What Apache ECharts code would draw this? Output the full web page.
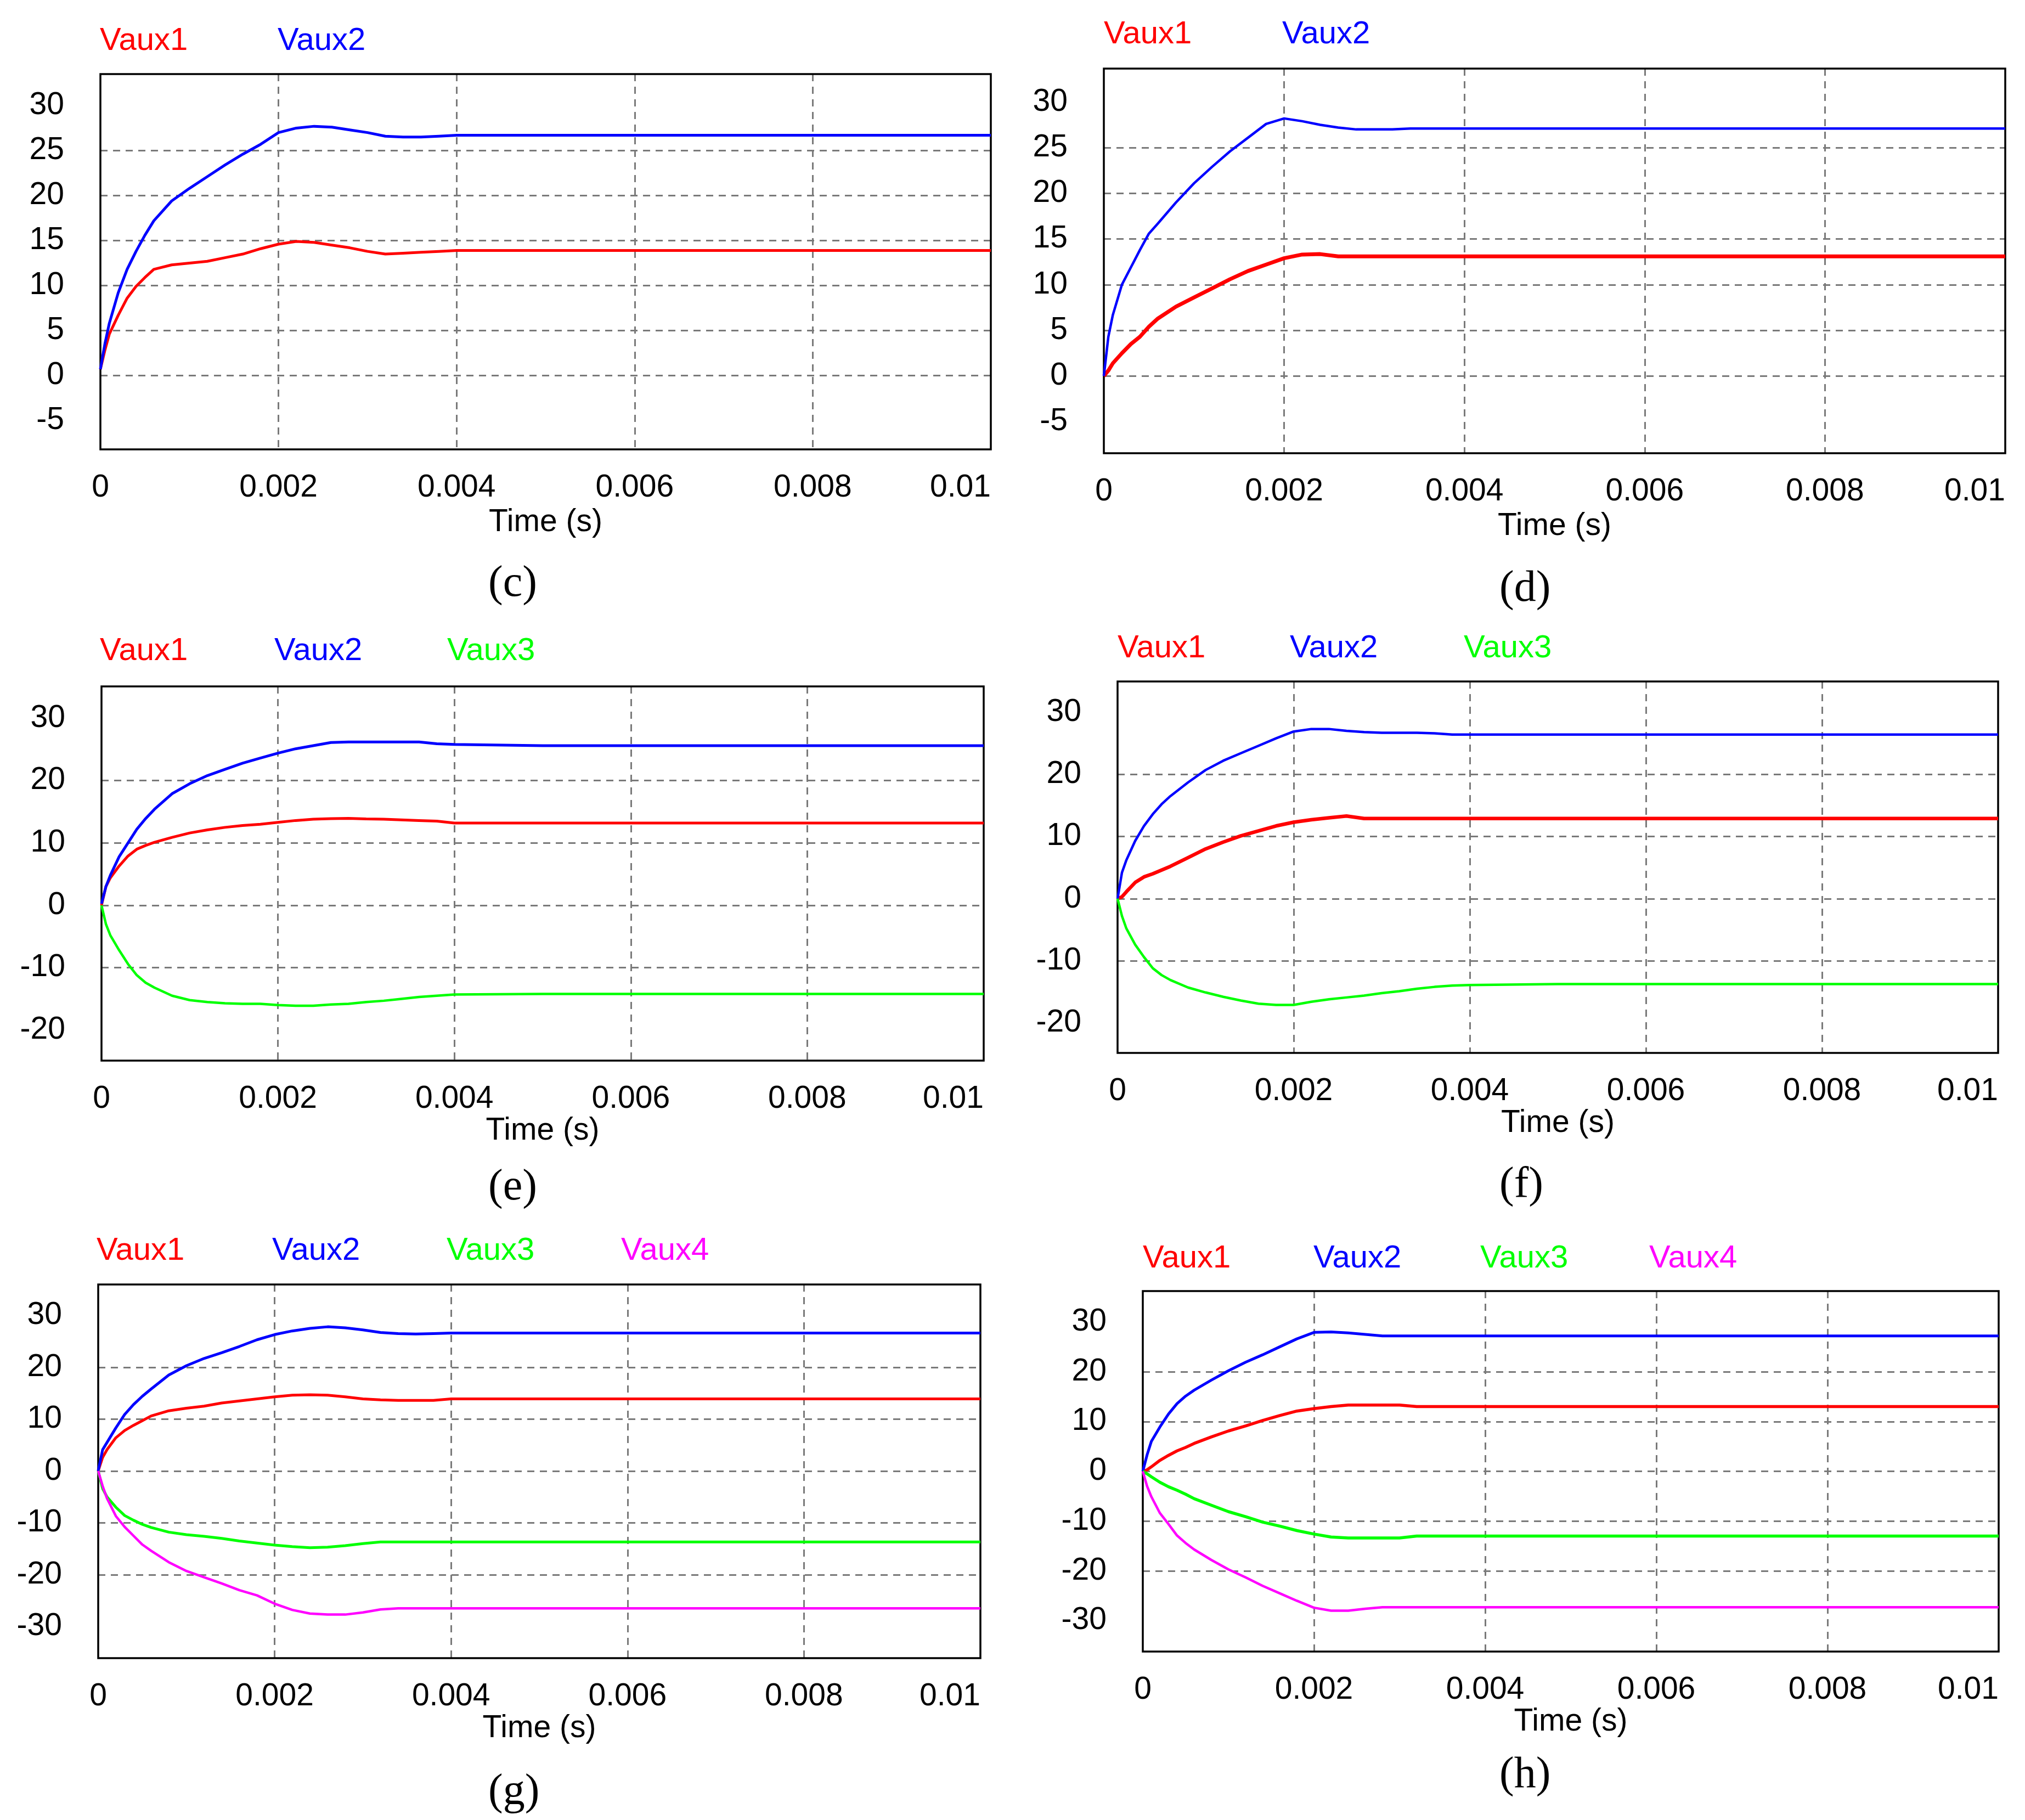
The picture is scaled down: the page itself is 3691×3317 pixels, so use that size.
<!DOCTYPE html>
<html>
<head>
<meta charset="utf-8">
<script src="https://cdn.jsdelivr.net/npm/echarts@6/dist/echarts.min.js"></script>
<style>
html,body{margin:0;padding:0;background:#fff;}
#chart{width:3691px;height:3317px;}
</style>
</head>
<body>
<div id="chart"></div>
<script>
// shared time samples (s)
const T = [0, 0.00005, 0.0001, 0.0002, 0.0003, 0.0004, 0.0005, 0.0006, 0.0008, 0.001,
  0.0012, 0.0014, 0.0016, 0.0018, 0.002, 0.0022, 0.0024, 0.0026, 0.0028, 0.003,
  0.0032, 0.0034, 0.0036, 0.0038, 0.004, 0.005, 0.006, 0.007, 0.008, 0.009, 0.01];

// x tick labels
const X_TICKS = [0, 0.002, 0.004, 0.006, 0.008, 0.01];
// y tick labels
const Y_TICKS_CD = [-5, 0, 5, 10, 15, 20, 25, 30];
const Y_TICKS_EF = [-20, -10, 0, 10, 20, 30];
const Y_TICKS_GH = [-30, -20, -10, 0, 10, 20, 30];

// panel (c)
const C_VAUX1 = [0.7, 2.8, 4.6, 6.7, 8.6, 9.9, 10.9, 11.8, 12.3, 12.5, 12.7, 13.1, 13.5, 14.1, 14.6, 14.9, 14.8, 14.5, 14.2, 13.8, 13.5, 13.6, 13.7, 13.8, 13.9, 13.9, 13.9, 13.9, 13.9, 13.9, 13.9];
const C_VAUX2 = [0.7, 3.5, 5.8, 9.2, 11.8, 13.8, 15.6, 17.2, 19.4, 20.8, 22.1, 23.4, 24.6, 25.7, 27.0, 27.5, 27.7, 27.6, 27.3, 27.0, 26.6, 26.5, 26.5, 26.6, 26.7, 26.7, 26.7, 26.7, 26.7, 26.7, 26.7];
// panel (d)
const D_VAUX1 = [0, 0.6, 1.4, 2.5, 3.5, 4.3, 5.4, 6.3, 7.6, 8.6, 9.6, 10.6, 11.5, 12.2, 12.9, 13.3, 13.35, 13.1, 13.1, 13.1, 13.1, 13.1, 13.1, 13.1, 13.1, 13.1, 13.1, 13.1, 13.1, 13.1, 13.1];
const D_VAUX2 = [0, 4.3, 6.7, 10.0, 11.9, 13.8, 15.6, 16.7, 19.0, 21.1, 22.9, 24.6, 26.1, 27.6, 28.2, 27.9, 27.5, 27.2, 27.0, 27.0, 27.0, 27.1, 27.1, 27.1, 27.1, 27.1, 27.1, 27.1, 27.1, 27.1, 27.1];
// panel (e)
const E_VAUX1 = [0, 3.0, 4.4, 6.3, 7.9, 9.0, 9.6, 10.1, 10.9, 11.6, 12.1, 12.5, 12.8, 13.0, 13.3, 13.6, 13.8, 13.9, 13.95, 13.85, 13.8, 13.7, 13.6, 13.5, 13.2, 13.2, 13.2, 13.2, 13.2, 13.2, 13.2];
const E_VAUX2 = [0.25, 3.0, 4.8, 7.8, 10.0, 12.2, 13.9, 15.4, 17.9, 19.5, 20.8, 21.8, 22.8, 23.6, 24.4, 25.1, 25.6, 26.1, 26.2, 26.2, 26.2, 26.2, 26.2, 25.9, 25.8, 25.6, 25.6, 25.6, 25.6, 25.6, 25.6];
const E_VAUX3 = [0, -3.0, -4.8, -7.2, -9.4, -11.2, -12.4, -13.2, -14.5, -15.2, -15.5, -15.7, -15.8, -15.8, -16.0, -16.1, -16.1, -15.9, -15.8, -15.5, -15.3, -15.0, -14.7, -14.5, -14.3, -14.2, -14.2, -14.2, -14.2, -14.2, -14.2];
// panel (f)
const F_VAUX1 = [0, 0.3, 1.1, 2.6, 3.5, 4.0, 4.6, 5.2, 6.6, 8.0, 9.1, 10.1, 10.9, 11.7, 12.3, 12.7, 13.0, 13.3, 12.9, 12.9, 12.9, 12.9, 12.9, 12.9, 12.9, 12.9, 12.9, 12.9, 12.9, 12.9, 12.9];
const F_VAUX2 = [0, 4.2, 6.2, 9.3, 11.7, 13.6, 15.2, 16.5, 18.7, 20.7, 22.2, 23.4, 24.6, 25.8, 26.9, 27.3, 27.3, 27.0, 26.8, 26.7, 26.7, 26.7, 26.6, 26.4, 26.4, 26.4, 26.4, 26.4, 26.4, 26.4, 26.4];
const F_VAUX3 = [0, -2.8, -4.8, -7.4, -9.4, -11.2, -12.3, -13.1, -14.3, -15.1, -15.8, -16.4, -16.9, -17.1, -17.1, -16.6, -16.2, -15.9, -15.6, -15.2, -14.9, -14.5, -14.2, -14.0, -13.9, -13.75, -13.75, -13.75, -13.75, -13.75, -13.75];
// panel (g)
const G_VAUX1 = [0, 2.6, 4.1, 6.4, 7.8, 8.8, 9.7, 10.6, 11.6, 12.1, 12.5, 13.1, 13.5, 13.9, 14.3, 14.6, 14.7, 14.6, 14.3, 13.9, 13.7, 13.6, 13.6, 13.6, 13.9, 13.9, 13.9, 13.9, 13.9, 13.9, 13.9];
const G_VAUX2 = [0, 4.1, 5.5, 8.3, 10.9, 12.8, 14.4, 15.8, 18.5, 20.3, 21.7, 22.8, 24.0, 25.3, 26.3, 27.0, 27.5, 27.8, 27.6, 27.2, 26.7, 26.5, 26.4, 26.5, 26.6, 26.6, 26.6, 26.6, 26.6, 26.6, 26.6];
const G_VAUX3 = [0, -3.4, -5.0, -7.0, -8.6, -9.5, -10.3, -10.9, -11.8, -12.3, -12.6, -13.0, -13.5, -13.9, -14.3, -14.6, -14.8, -14.7, -14.4, -14.0, -13.7, -13.7, -13.7, -13.7, -13.7, -13.7, -13.7, -13.7, -13.7, -13.7, -13.7];
const G_VAUX4 = [0, -2.9, -5.3, -8.7, -10.8, -12.5, -14.2, -15.4, -17.6, -19.3, -20.5, -21.7, -23.0, -24.0, -25.6, -26.8, -27.5, -27.7, -27.7, -27.3, -26.7, -26.5, -26.5, -26.5, -26.5, -26.5, -26.5, -26.5, -26.5, -26.5, -26.5];
// panel (h)
const H_VAUX1 = [0, 0.3, 0.9, 2.2, 3.2, 4.1, 4.8, 5.6, 6.9, 8.1, 9.1, 10.2, 11.2, 12.1, 12.6, 13.0, 13.3, 13.3, 13.3, 13.3, 13.0, 13.0, 13.0, 13.0, 13.0, 13.0, 13.0, 13.0, 13.0, 13.0, 13.0];
const H_VAUX2 = [0, 3.3, 6.0, 8.9, 11.5, 13.6, 15.1, 16.3, 18.3, 20.2, 21.9, 23.4, 25.0, 26.6, 27.9, 28.0, 27.8, 27.5, 27.2, 27.2, 27.2, 27.2, 27.2, 27.2, 27.2, 27.2, 27.2, 27.2, 27.2, 27.2, 27.2];
const H_VAUX3 = [0, -0.5, -1.1, -2.2, -3.1, -3.8, -4.6, -5.5, -6.8, -8.1, -9.1, -10.2, -11.0, -11.9, -12.6, -13.2, -13.4, -13.4, -13.4, -13.4, -13.0, -13.0, -13.0, -13.0, -13.0, -13.0, -13.0, -13.0, -13.0, -13.0, -13.0];
const H_VAUX4 = [0, -3.0, -5.1, -8.4, -10.6, -12.9, -14.4, -15.7, -17.8, -19.7, -21.3, -23.0, -24.5, -26.0, -27.4, -28.0, -28.0, -27.6, -27.3, -27.3, -27.3, -27.3, -27.3, -27.3, -27.3, -27.3, -27.3, -27.3, -27.3, -27.3, -27.3];

const COLORS = { Vaux1: '#ff0000', Vaux2: '#0000ff', Vaux3: '#00ff00', Vaux4: '#ff00ff' };
const SANS = "'Liberation Sans', Arial, sans-serif";
const SERIF = "'Liberation Serif', 'Times New Roman', serif";
const FS = 57;

const panels = [
  { cap: '(c)', series: [['Vaux1', C_VAUX1], ['Vaux2', C_VAUX2]], yMin: -8.2, yMax: 33.5, yTicks: Y_TICKS_CD,
    box: [183, 135, 1623, 684], legY: 75, legX: [182, 506], nameGap: 105, capPos: [930, 1070], widths: [5, 5] },
  { cap: '(d)', series: [['Vaux1', D_VAUX1], ['Vaux2', D_VAUX2]], yMin: -8.45, yMax: 33.66, yTicks: Y_TICKS_CD,
    box: [2012, 125, 1643, 701], legY: 63, legX: [2012, 2337], nameGap: 105, capPos: [2773, 1079], widths: [7, 4.5] },
  { cap: '(e)', series: [['Vaux1', E_VAUX1], ['Vaux2', E_VAUX2], ['Vaux3', E_VAUX3]], yMin: -24.9, yMax: 35.1, yTicks: Y_TICKS_EF,
    box: [185, 1251, 1608, 682], legY: 1187, legX: [182, 500, 815], nameGap: 97, capPos: [930, 2170], widths: [5, 5, 4.5] },
  { cap: '(f)', series: [['Vaux1', F_VAUX1], ['Vaux2', F_VAUX2], ['Vaux3', F_VAUX3]], yMin: -24.83, yMax: 34.95, yTicks: Y_TICKS_EF,
    box: [2037, 1242, 1605, 677], legY: 1182, legX: [2037, 2351, 2668], nameGap: 99, capPos: [2773, 2166], widths: [6.5, 4.5, 4.5] },
  { cap: '(g)', series: [['Vaux1', G_VAUX1], ['Vaux2', G_VAUX2], ['Vaux3', G_VAUX3], ['Vaux4', G_VAUX4]], yMin: -36.1, yMax: 35.96, yTicks: Y_TICKS_GH,
    box: [179, 2341, 1608, 681], legY: 2280, legX: [176, 496, 814, 1132], nameGap: 99, capPos: [930, 3272], widths: [5, 5, 5, 4.5] },
  { cap: '(h)', series: [['Vaux1', H_VAUX1], ['Vaux2', H_VAUX2], ['Vaux3', H_VAUX3], ['Vaux4', H_VAUX4]], yMin: -36.2, yMax: 36.2, yTicks: Y_TICKS_GH,
    box: [2083, 2353, 1560, 657], legY: 2294, legX: [2083, 2394, 2698, 3006], nameGap: 95, capPos: [2773, 3241], widths: [5.5, 5, 5.5, 4.5] }
];

const gridLine = { color: '#7a7a7a', type: [13, 10], width: 3 };
const option = {
  backgroundColor: '#ffffff',
  animation: false,
  grid: [], xAxis: [], yAxis: [], series: [], legend: [], graphic: []
};

panels.forEach((p, i) => {
  option.grid.push({ left: p.box[0], top: p.box[1], width: p.box[2], height: p.box[3],
    show: true, borderColor: '#000', borderWidth: 3.5, backgroundColor: 'transparent', z: 3 });
  option.xAxis.push({
    type: 'value', gridIndex: i, min: X_TICKS[0], max: X_TICKS[X_TICKS.length - 1], interval: 0.002,
    axisLine: { show: false }, axisTick: { show: false },
    axisLabel: { fontSize: FS, color: '#000', fontFamily: SANS, margin: 42, alignMaxLabel: 'right',
      formatter: v => String(parseFloat(Number(v).toFixed(4))) },
    splitLine: { show: true, showMinLine: false, showMaxLine: false, lineStyle: gridLine },
    name: 'Time (s)', nameLocation: 'middle', nameGap: p.nameGap,
    nameTextStyle: { fontSize: FS, color: '#000', fontFamily: SANS }
  });
  option.yAxis.push({
    type: 'value', gridIndex: i, min: p.yMin, max: p.yMax,
    axisLine: { show: false },
    axisTick: { show: false, customValues: p.yTicks },
    axisLabel: { customValues: p.yTicks, fontSize: FS, color: '#000', fontFamily: SANS, margin: 66 },
    splitLine: { show: true, showMinLine: false, showMaxLine: false, lineStyle: gridLine }
  });
  p.series.forEach((s, k) => {
    const name = s[0], vals = s[1];
    option.series.push({
      type: 'line', name: name, xAxisIndex: i, yAxisIndex: i,
      data: T.map((t, j) => [t, vals[j]]),
      showSymbol: false, symbol: 'none', clip: true, z: 4,
      lineStyle: { color: COLORS[name], width: p.widths[k] }, itemStyle: { color: COLORS[name] }
    });
    option.legend.push({
      data: [name], left: p.legX[k] - 10, top: p.legY - 34, orient: 'horizontal',
      icon: 'rect', itemWidth: 0, itemHeight: 0, itemGap: 0, selectedMode: false,
      textStyle: { color: COLORS[name], fontSize: FS + 1, fontFamily: SANS }
    });
  });
  option.graphic.push({
    type: 'text', left: p.capPos[0] - 40, top: p.capPos[1] - 45,
    style: { text: p.cap, font: '80px ' + SERIF, fill: '#000' }
  });
});

const chart = echarts.init(document.getElementById('chart'), null, { renderer: 'canvas' });
chart.setOption(option);
</script>
</body>
</html>
